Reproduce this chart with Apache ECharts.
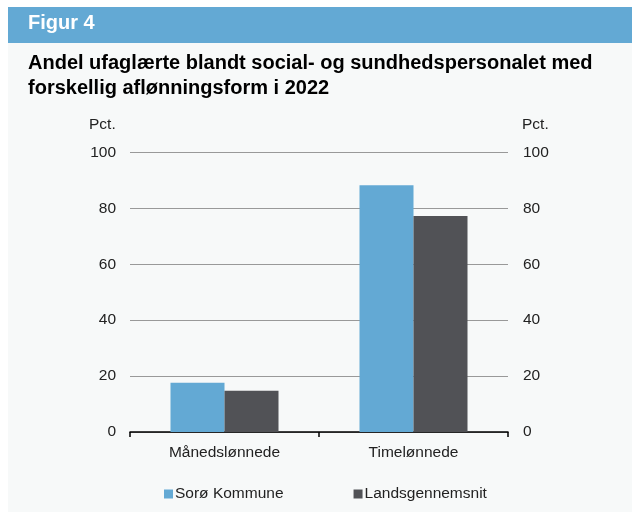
<!DOCTYPE html>
<html><head><meta charset="utf-8">
<script src="https://cdn.jsdelivr.net/npm/echarts@6/dist/echarts.min.js"></script>
<style>html,body{margin:0;padding:0;background:#fff}#c{width:632px;height:512px}</style>
</head><body><div id="c"></div>
<script>
const categories = ['Månedslønnede', 'Timelønnede'];
const soroe = [17.6, 88.3];
const lands = [14.8, 77.3];
const yTicks = [0, 20, 40, 60, 80, 100];
const seriesNames = ['Sorø Kommune', 'Landsgennemsnit'];

const chart = echarts.init(document.getElementById('c'), null, {renderer: 'canvas'});
const font = 'Liberation Sans, Arial, sans-serif';
const fs = 15.5;
chart.setOption({
  backgroundColor: '#ffffff',
  animation: false,
  textStyle: {fontFamily: font},
  graphic: [
    {type: 'rect', z: -10, shape: {x: 8, y: 7, width: 624, height: 505}, style: {fill: '#f7f9f9'}},
    {type: 'rect', z: -9, shape: {x: 8, y: 7, width: 624, height: 36}, style: {fill: '#63a9d4'}},
    {type: 'text', left: 28, top: 13, style: {text: 'Figur 4', fill: '#ffffff', font: 'bold 20px ' + font}},
    {type: 'text', left: 28, top: 51, style: {text: 'Andel ufaglærte blandt social- og sundhedspersonalet med\nforskellig aflønningsform i 2022', fill: '#000000', font: 'bold 20px ' + font, lineHeight: 25}},
    {type: 'text', left: 89, top: 117, style: {text: 'Pct.', fill: '#222', font: fs + 'px ' + font}},
    {type: 'text', left: 522, top: 117, style: {text: 'Pct.', fill: '#222', font: fs + 'px ' + font}}
  ],
  legend: {
    data: seriesNames,
    left: 159, top: 481,
    icon: 'rect', itemWidth: 9, itemHeight: 9, itemGap: 70,
    textStyle: {fontSize: fs, color: '#222', fontFamily: font, padding: [0, 0, 0, -3]}
  },
  grid: {left: 130, right: 124, top: 152.5, bottom: 80, containLabel: false},
  xAxis: {
    type: 'category', data: categories,
    axisLine: {lineStyle: {color: '#000', width: 1.5}},
    axisTick: {show: true, length: 5, lineStyle: {color: '#000', width: 1.5}},
    axisLabel: {fontSize: fs, color: '#222', margin: 13, fontFamily: font}
  },
  yAxis: [
    {type: 'value', min: 0, max: 100, interval: 20,
     axisLine: {show: false}, axisTick: {show: false},
     axisLabel: {fontSize: fs, color: '#222', margin: 14, fontFamily: font,
       formatter: v => yTicks.includes(v) ? String(v) : ''},
     splitLine: {lineStyle: {color: '#999', width: 1}}},
    {type: 'value', min: 0, max: 100, interval: 20, position: 'right',
     axisLine: {show: false}, axisTick: {show: false},
     axisLabel: {fontSize: fs, color: '#222', margin: 15, fontFamily: font},
     splitLine: {show: false}}
  ],
  series: [
    {name: seriesNames[0], type: 'bar', data: soroe, barWidth: 54, barGap: '0%', itemStyle: {color: '#63a9d4'}},
    {name: seriesNames[1], type: 'bar', data: lands, barWidth: 54, barGap: '0%', itemStyle: {color: '#515256'}}
  ]
});
</script></body></html>
